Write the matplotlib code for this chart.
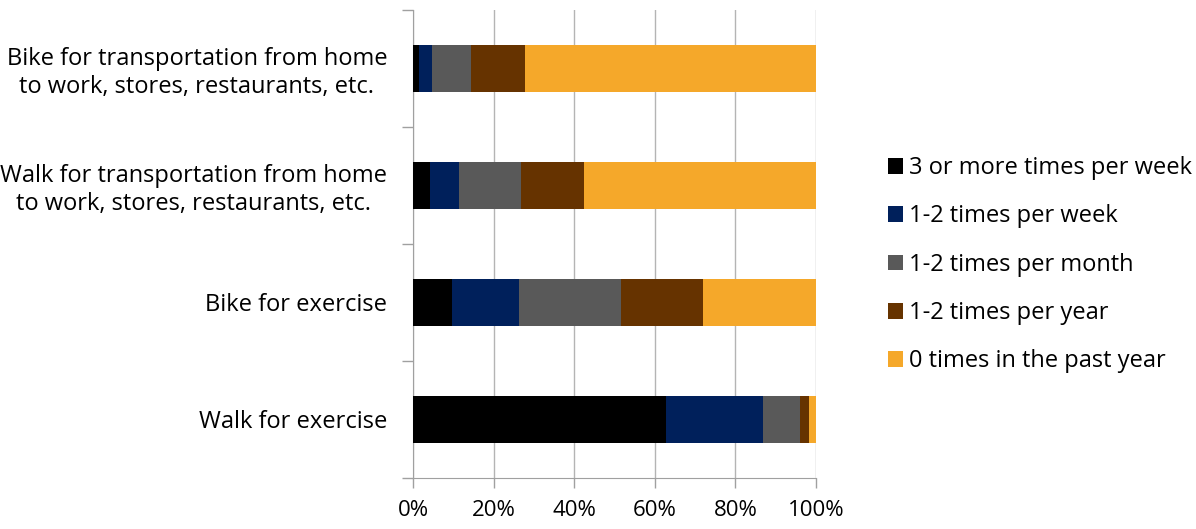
import numpy as np
import matplotlib.pyplot as plt
from matplotlib.ticker import FixedLocator, PercentFormatter

plt.rcParams['font.family'] = ['Open Sans', 'DejaVu Sans']

# Categories (bottom to top)
activities = [
    "Walk for exercise",
    "Bike for exercise",
    "Walk for transportation from home\nto work, stores, restaurants, etc.",
    "Bike for transportation from home\nto work, stores, restaurants, etc.",
]
frequencies = [
    "3 or more times per week",
    "1-2 times per week",
    "1-2 times per month",
    "1-2 times per year",
    "0 times in the past year",
]
# percent of respondents, one list per frequency (same order as activities)
three_plus_week = [62.7, 9.8, 4.1, 1.4]
one_two_week = [24.1, 16.5, 7.3, 3.3]
one_two_month = [9.3, 25.4, 15.3, 9.8]
one_two_year = [2.2, 20.3, 15.7, 13.4]
zero_past_year = [1.7, 28.0, 57.6, 72.1]

colors = ["#000000", "#00205b", "#595959", "#663300", "#f5a82a"]

series = [three_plus_week, one_two_week, one_two_month, one_two_year, zero_past_year]

fig = plt.figure(figsize=(11.96, 5.29), dpi=100)
ax = fig.add_axes([0.3453, 0.0964, 0.3370, 0.885])

y = np.arange(len(activities))
left = np.zeros(len(activities))
for vals, lab, col in zip(series, frequencies, colors):
    vals = np.array(vals)
    ax.barh(y, vals, left=left, height=0.4, color=col, label=lab, zorder=3)
    left += vals

ax.set_xlim(0, 100)
ax.set_ylim(-0.5, len(activities) - 0.5)
ax.set_xticks(np.arange(0, 101, 20))
ax.xaxis.set_major_formatter(PercentFormatter(decimals=0))
ax.grid(axis="x", color="#b4b4b4", linewidth=1, zorder=0)

ax.set_yticks(y)
ax.set_yticklabels(activities, multialignment="center", linespacing=1.2)
ax.yaxis.set_minor_locator(FixedLocator(np.arange(-0.5, len(activities), 1)))
ax.tick_params(axis="y", which="major", length=0, pad=18.5, labelsize=17)
ax.tick_params(axis="y", which="minor", length=8, color="#a0a0a0", width=1)
ax.tick_params(axis="x", length=7, color="#a0a0a0", width=1, labelsize=16, pad=9)

for s in ["top", "right"]:
    ax.spines[s].set_visible(False)
ax.spines["left"].set_color("#a0a0a0")
ax.spines["bottom"].set_color("#a0a0a0")

handles, labels = ax.get_legend_handles_labels()
fig.legend(handles, labels, loc="upper left", bbox_to_anchor=(0.725, 0.745),
           frameon=False, fontsize=17, handlelength=0.64, handleheight=0.64,
           handletextpad=0.25, labelspacing=1.03)

fig.savefig("out.png", dpi=100)
